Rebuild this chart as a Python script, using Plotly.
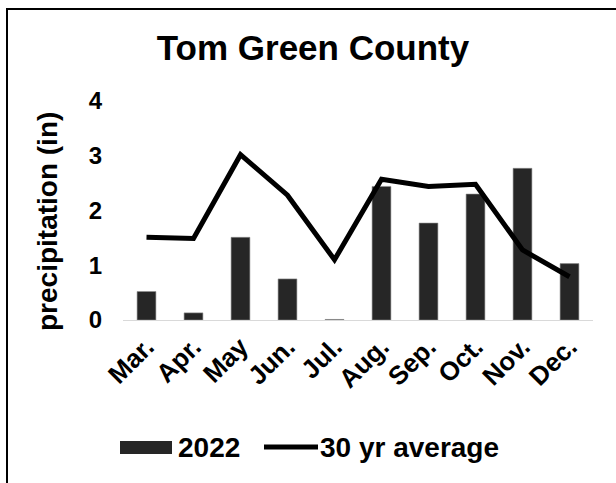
import plotly.graph_objects as go

# Monthly precipitation, Tom Green County (inches)
months = ["Mar.", "Apr.", "May", "Jun.", "Jul.", "Aug.", "Sep.", "Oct.", "Nov.", "Dec."]
precip_2022 = [0.52, 0.13, 1.51, 0.75, 0.01, 2.44, 1.77, 2.30, 2.77, 1.03]
avg_30yr = [1.51, 1.49, 3.02, 2.28, 1.10, 2.57, 2.44, 2.48, 1.28, 0.79]
y_ticks = [0, 1, 2, 3, 4]

W, H = 616, 483
ML, MR, MT, MB = 123, 23, 101, 163
PW, PH = W - ML - MR, H - MT - MB

FONT = "Liberation Sans, Arial, sans-serif"
BAR_COLOR = "#262626"


def px_x(x):
    return (x - ML) / PW


def px_y(y):
    return (H - MB - y) / PH


fig = go.Figure()
fig.add_trace(go.Bar(
    x=months, y=precip_2022, name="2022",
    marker=dict(color=BAR_COLOR, line=dict(color="#8c8c8c", width=0.6)),
    width=0.4, showlegend=False,
))
fig.add_trace(go.Scatter(
    x=months, y=avg_30yr, name="30 yr average", mode="lines",
    line=dict(color="black", width=5), showlegend=False,
))

shapes = [
    # outer frame
    dict(type="rect", xref="paper", yref="paper",
         x0=px_x(7), x1=px_x(W + 20), y0=px_y(H + 20), y1=px_y(9),
         line=dict(color="black", width=2), fillcolor="rgba(0,0,0,0)", layer="below"),
    # legend swatches
    dict(type="rect", xref="paper", yref="paper",
         x0=px_x(120), x1=px_x(172), y0=px_y(454), y1=px_y(441),
         line=dict(width=0), fillcolor=BAR_COLOR),
    dict(type="line", xref="paper", yref="paper",
         x0=px_x(264), x1=px_x(318), y0=px_y(447), y1=px_y(447),
         line=dict(color="black", width=5)),
]

annotations = [
    dict(text="precipitation (in)", textangle=-90, xref="paper", yref="paper",
         x=px_x(47), y=px_y(222), xanchor="center", yanchor="middle", showarrow=False,
         font=dict(family=FONT, size=28, color="black", weight="bold")),
    dict(text="2022", xref="paper", yref="paper", x=px_x(176), y=px_y(447),
         xanchor="left", yanchor="middle", showarrow=False,
         font=dict(family=FONT, size=28, color="black", weight="bold")),
    dict(text="30 yr average", xref="paper", yref="paper", x=px_x(318), y=px_y(447),
         xanchor="left", yanchor="middle", showarrow=False,
         font=dict(family=FONT, size=28, color="black", weight="bold")),
]

fig.update_layout(
    width=W, height=H,
    margin=dict(l=ML, r=MR, t=MT, b=MB),
    paper_bgcolor="white", plot_bgcolor="white",
    title=dict(text="Tom Green County", xref="container", x=313 / W, xanchor="center",
               yref="container", y=1 - 48 / H, yanchor="middle",
               font=dict(family=FONT, size=35, color="black", weight="bold")),
    xaxis=dict(
        showline=True, linecolor="#d9d9d9", linewidth=1.3,
        showgrid=False, ticks="", tickangle=-45,
        tickfont=dict(family=FONT, size=26, color="black", weight="bold"),
    ),
    yaxis=dict(
        range=[0, 4], tickvals=y_ticks, showgrid=False, zeroline=False,
        showline=False, ticks="", ticklabelstandoff=20,
        tickfont=dict(family=FONT, size=24, color="black", weight="bold"),
    ),
    bargap=0.6,
    shapes=shapes, annotations=annotations,
    showlegend=False,
)

fig.write_html("out.html")
